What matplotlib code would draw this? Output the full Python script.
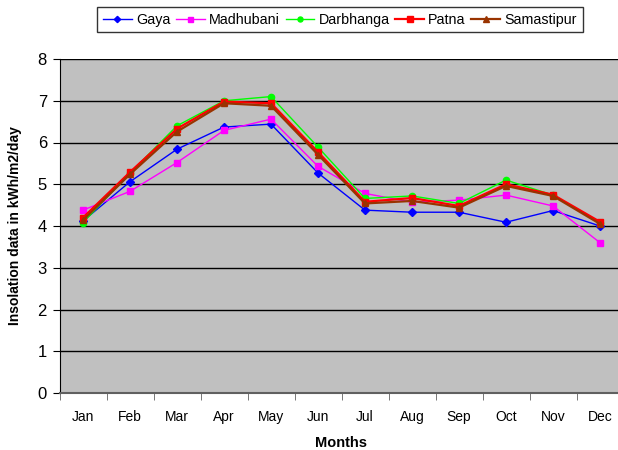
import matplotlib
import numpy as np

matplotlib.use("Agg")
import matplotlib.pyplot as plt

plt.rcParams["font.family"] = ["Liberation Sans", "DejaVu Sans"]

MONTHS = ["Jan", "Feb", "Mar", "Apr", "May", "Jun",
          "Jul", "Aug", "Sep", "Oct", "Nov", "Dec"]

GAYA = [4.12, 5.06, 5.84, 6.37, 6.44, 5.27, 4.38, 4.33, 4.33, 4.09, 4.37, 4.00]
MADHUBANI = [4.38, 4.83, 5.52, 6.29, 6.56, 5.43, 4.78, 4.57, 4.62, 4.74, 4.48, 3.60]
DARBHANGA = [4.08, 5.27, 6.40, 7.00, 7.10, 5.89, 4.66, 4.72, 4.54, 5.10, 4.74, 4.07]
PATNA = [4.20, 5.29, 6.33, 6.98, 6.94, 5.77, 4.58, 4.67, 4.48, 5.00, 4.75, 4.10]
SAMASTIPUR = [4.14, 5.24, 6.26, 6.94, 6.88, 5.71, 4.54, 4.60, 4.44, 4.96, 4.72, 4.05]

SERIES = [
    ("Gaya", GAYA, "#0000FF", "D", 4, 1.0),
    ("Madhubani", MADHUBANI, "#FF00FF", "s", 4.5, 1.0),
    ("Darbhanga", DARBHANGA, "#00FF00", "o", 4.5, 1.0),
    ("Patna", PATNA, "#FF0000", "s", 5, 1.6),
    ("Samastipur", SAMASTIPUR, "#993300", "^", 5, 1.6),
]

fig = plt.figure(figsize=(6.18, 4.5), dpi=100)
ax = fig.add_axes([59.5 / 618, 1 - 393 / 450, 564 / 618, 334 / 450])
ax.set_facecolor("#C0C0C0")

x = np.arange(len(MONTHS))
for name, vals, color, marker, ms, lw in SERIES:
    ax.plot(x, vals, color=color, marker=marker, markersize=ms,
            linewidth=lw, label=name, markeredgecolor=color)

ax.set_xlim(-0.5, len(MONTHS) - 0.5)
ax.set_ylim(0, 8)
ax.set_yticks(range(0, 9))
ax.yaxis.grid(True, color="black", linewidth=1)
ax.set_axisbelow(True)

ax.set_xticks(x)
ax.set_xticklabels(MONTHS, fontsize=10)
ax.set_xticks(np.arange(-0.5, len(MONTHS)), minor=True)
ax.tick_params(axis="x", which="major", length=0, pad=12)
ax.tick_params(axis="x", which="minor", length=5, color="#606060")
ax.tick_params(axis="y", labelsize=12, length=5, pad=4)

for side in ["top", "right"]:
    ax.spines[side].set_visible(False)
ax.spines["left"].set_color("black")
ax.spines["bottom"].set_color("#606060")
ax.spines["bottom"].set_linewidth(1.5)

ax.set_ylabel("Insolation data in kWh/m2/day", fontsize=10,
              fontweight="bold", labelpad=11)
ax.set_xlabel("Months", fontsize=10.5, fontweight="bold", labelpad=9)

leg = fig.legend(loc="upper center", bbox_to_anchor=(340 / 618, 1 - 7 / 450),
                 ncol=5, fontsize=10.3, frameon=True, fancybox=False,
                 edgecolor="black", handlelength=2.0, handletextpad=0.3,
                 columnspacing=0.4, borderpad=0.4, borderaxespad=0,
                 markerscale=0.8)
leg.get_frame().set_linewidth(1)

fig.savefig("out.png", dpi=100)
